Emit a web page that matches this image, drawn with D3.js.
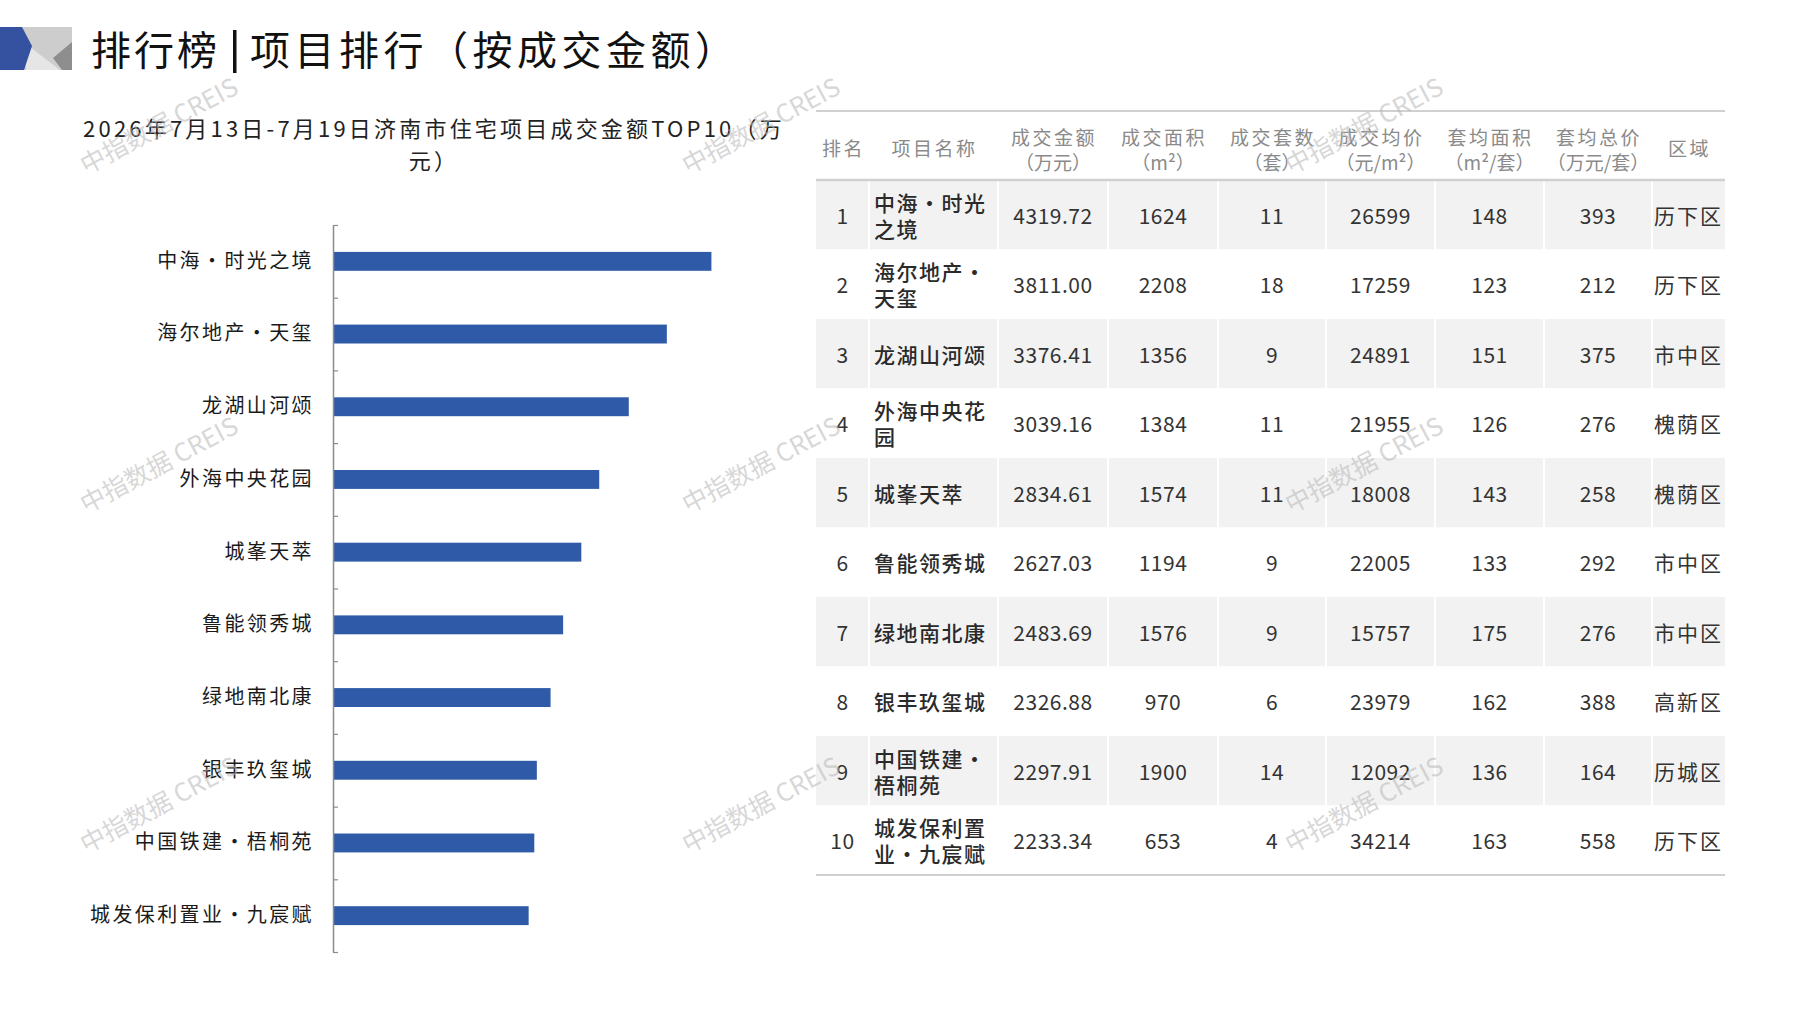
<!DOCTYPE html>
<html>
<head>
<meta charset="utf-8">
<script src="https://cdn.jsdelivr.net/npm/d3@7"></script>
<style>
  body { margin: 0; background: #fff; }
  text { font-family: "Noto Sans CJK SC", "Noto Sans", sans-serif; }
</style>
</head>
<body>
<svg id="chart" width="1797" height="1010"></svg>
<script>
// DATA
var projectNames = ['中海·时光之境', '海尔地产·天玺', '龙湖山河颂', '外海中央花园', '城峯天萃',
                    '鲁能领秀城', '绿地南北康', '银丰玖玺城', '中国铁建·梧桐苑', '城发保利置业·九宸赋'];
var dealAmount  = [4319.72, 3811.00, 3376.41, 3039.16, 2834.61, 2627.03, 2483.69, 2326.88, 2297.91, 2233.34];
var dealArea    = [1624, 2208, 1356, 1384, 1574, 1194, 1576, 970, 1900, 653];
var dealUnits   = [11, 18, 9, 11, 11, 9, 9, 6, 14, 4];
var avgPrice    = [26599, 17259, 24891, 21955, 18008, 22005, 15757, 23979, 12092, 34214];
var avgUnitArea = [148, 123, 151, 126, 143, 133, 175, 162, 136, 163];
var avgUnitTotal = [393, 212, 375, 276, 258, 292, 276, 388, 164, 558];
var districts   = ['历下区', '历下区', '市中区', '槐荫区', '槐荫区', '市中区', '市中区', '高新区', '历城区', '历下区'];

var headerTop    = ['排名', '项目名称', '成交金额', '成交面积', '成交套数', '成交均价', '套均面积', '套均总价', '区域'];
var headerBottom = ['', '', '（万元）', '（m²）', '（套）', '（元/m²）', '（m²/套）', '（万元/套）', ''];

var pageTitle = '排行榜';
var pageTitle2 = '项目排行（按成交金额）';
var chartTitle = ['2026年7月13日-7月19日济南市住宅项目成交金额TOP10（万', '元）'];
var watermark = '中指数据 CREIS';

var svg = d3.select('#chart');

// HEADER LOGO + TITLE
var logo = svg.append('g');
logo.append('rect').attr('x', 0).attr('y', 27).attr('width', 72).attr('height', 43).attr('fill', '#cdcdcd');
logo.append('path').attr('d', 'M26,44 L60,70 L26,70 Z').attr('fill', '#e6e6e6');
logo.append('path').attr('d', 'M72,42 L72,70 L62,70 L53,58 Z').attr('fill', '#8e8e8e');
logo.append('path').attr('d', 'M0,27 L22,27 L32,46 L24,70 L0,70 Z').attr('fill', '#3552a0');

svg.append('text')
    .attr('x', 91).attr('y', 65)
    .style('font-size', '40px').style('letter-spacing', '3px').style('fill', '#111')
    .text(pageTitle);
svg.append('rect').attr('x', 233).attr('y', 30).attr('width', 3.5).attr('height', 43).attr('fill', '#111');
svg.append('text')
    .attr('x', 250).attr('y', 65)
    .style('font-size', '40px').style('letter-spacing', '4.5px').style('fill', '#111')
    .text(pageTitle2);

// BAR CHART
svg.selectAll('text.chartTitle')
    .data(chartTitle)
    .enter()
    .append('text')
    .attr('class', 'chartTitle')
    .attr('x', 434)
    .attr('y', function(d, i) { return 137 + i * 32; })
    .attr('text-anchor', 'middle')
    .style('font-size', '22px').style('letter-spacing', '3.2px').style('fill', '#222')
    .text(function(d) { return d; });

var axisX = 333, axisTop = 225, axisBottom = 952;
var x = d3.scaleLinear().domain([0, 5000]).range([axisX, axisX + 438]);
var y = d3.scaleBand().domain(projectNames).range([axisTop, axisBottom]).paddingInner(0.74).paddingOuter(0.37);
var yTicks = d3.scaleLinear().domain([0, projectNames.length]).range([axisTop, axisBottom]);

svg.selectAll('rect.bar')
    .data(projectNames)
    .enter()
    .append('rect')
    .attr('class', 'bar')
    .attr('x', x(0))
    .attr('y', function(d) { return y(d); })
    .attr('width', function(d, i) { return x(dealAmount[i]) - x(0); })
    .attr('height', y.bandwidth())
    .style('fill', '#2e5aa7');

// Draw the Y-Axis (line + boundary ticks)
var yAxis = svg.append('g')
    .attr('transform', 'translate(' + axisX + ',0)')
    .call(d3.axisRight(yTicks).tickValues(d3.range(0, projectNames.length + 1)).tickSize(5).tickSizeOuter(0).tickFormat(''));
yAxis.select('.domain').style('stroke', '#8c8c8c').style('stroke-width', '1.5px');
yAxis.selectAll('line').style('stroke', '#8c8c8c').style('stroke-width', '1.2px');

// Category labels
var yLabels = svg.append('g')
    .attr('transform', 'translate(' + axisX + ',0)')
    .call(d3.axisLeft(y).tickSize(0).tickPadding(19));
yLabels.select('.domain').remove();
yLabels.selectAll('text')
    .style('font-size', '20px').style('letter-spacing', '2.4px').style('fill', '#1a1a1a')
    .style('font-family', '"Noto Sans CJK SC", sans-serif');

// TABLE
var colEdges = [816, 869, 998, 1108, 1218, 1326, 1435, 1544, 1652, 1725];
var tableTop = 111, headBottom = 180, rowH = 69.5;
var nRows = projectNames.length;

// Row backgrounds
svg.selectAll('rect.rowBg')
    .data(d3.range(nRows))
    .enter()
    .append('rect')
    .attr('class', 'rowBg')
    .attr('x', colEdges[0])
    .attr('y', function(i) { return headBottom + i * rowH; })
    .attr('width', colEdges[colEdges.length - 1] - colEdges[0])
    .attr('height', rowH)
    .style('fill', function(i) { return i % 2 === 0 ? '#f2f2f2' : '#ffffff'; });

// White column separators
svg.selectAll('line.colSep')
    .data(colEdges.slice(1, -1))
    .enter()
    .append('line')
    .attr('class', 'colSep')
    .attr('x1', function(d) { return d; }).attr('x2', function(d) { return d; })
    .attr('y1', headBottom + 1).attr('y2', headBottom + nRows * rowH)
    .style('stroke', '#ffffff').style('stroke-width', '2px');

// Horizontal rules
[tableTop, headBottom, headBottom + nRows * rowH].forEach(function(yy, i) {
    svg.append('line')
        .attr('x1', colEdges[0]).attr('x2', colEdges[colEdges.length - 1])
        .attr('y1', yy).attr('y2', yy)
        .style('stroke', '#d0d0d0')
        .style('stroke-width', i === 1 ? '2.5px' : '2px');
});

function colCenter(c) { return (colEdges[c] + colEdges[c + 1]) / 2; }

// Header text
headerTop.forEach(function(h, c) {
    var two = headerBottom[c] !== '';
    svg.append('text')
        .attr('x', colCenter(c) + 1)
        .attr('y', two ? 136 : 147)
        .attr('text-anchor', 'middle')
        .attr('dominant-baseline', 'central')
        .style('font-size', '19px').style('letter-spacing', '2.5px').style('fill', '#8a8a8a')
        .text(h);
    if (two) {
        svg.append('text')
            .attr('x', colCenter(c))
            .attr('y', 161)
            .attr('text-anchor', 'middle')
            .attr('dominant-baseline', 'central')
            .style('font-size', '19px').style('fill', '#8a8a8a')
            .text(headerBottom[c]);
    }
});

// Body cells
var cols = [
    function(i) { return String(i + 1); },
    null,
    function(i) { return dealAmount[i].toFixed(2); },
    function(i) { return dealArea[i]; },
    function(i) { return dealUnits[i]; },
    function(i) { return avgPrice[i]; },
    function(i) { return avgUnitArea[i]; },
    function(i) { return avgUnitTotal[i]; },
    function(i) { return districts[i]; }
];

function wrapName(s) {
    var chars = Array.from(s), lines = [];
    for (var k = 0; k < chars.length; k += 5) lines.push(chars.slice(k, k + 5).join(''));
    return lines;
}

for (var i = 0; i < nRows; i++) {
    var cy = headBottom + i * rowH + rowH / 2;
    cols.forEach(function(fn, c) {
        if (fn === null) return;
        svg.append('text')
            .attr('x', colCenter(c))
            .attr('y', cy)
            .attr('text-anchor', 'middle')
            .attr('dominant-baseline', 'central')
            .style('font-size', '21px').style('fill', '#333')
            .style('letter-spacing', c === 8 ? '2px' : '0.5px')
            .text(fn(i));
    });
    // Project name, wrapped at 5 characters per line
    var lines = wrapName(projectNames[i]);
    lines.forEach(function(line, k) {
        svg.append('text')
            .attr('x', colEdges[1] + 5)
            .attr('y', cy - (lines.length - 1) * 13 + k * 26)
            .attr('dominant-baseline', 'central')
            .style('font-size', '21px').style('font-weight', 500).style('letter-spacing', '1.5px').style('fill', '#2a2a2a')
            .text(line);
    });
}

// WATERMARKS
var wmX = [158, 760, 1363], wmY = [124, 463, 803];
wmY.forEach(function(wy) {
    wmX.forEach(function(wx) {
        svg.append('text')
            .attr('transform', 'translate(' + wx + ',' + wy + ') rotate(-28)')
            .attr('text-anchor', 'middle')
            .attr('dominant-baseline', 'central')
            .style('font-size', '25px').style('fill', '#b8b8b8').style('opacity', 0.55)
            .text(watermark);
    });
});
</script>
</body>
</html>
